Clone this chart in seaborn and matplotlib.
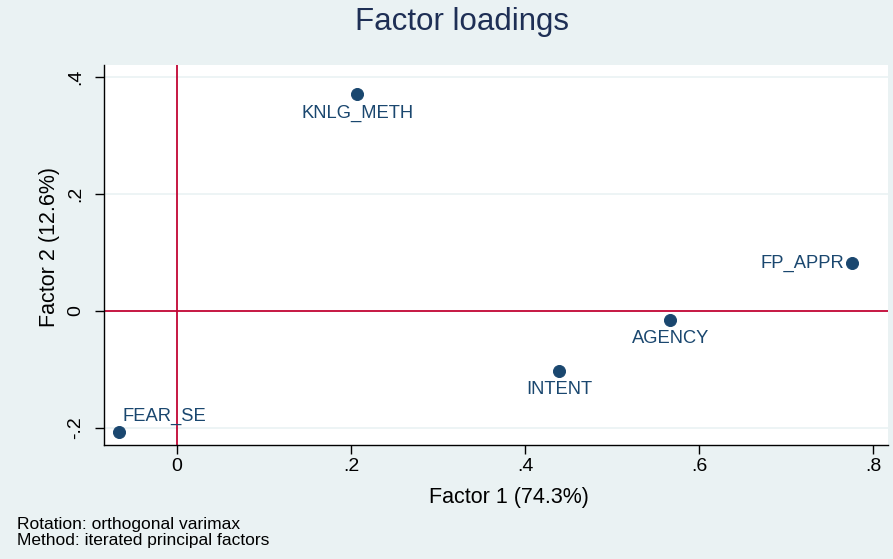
import matplotlib
matplotlib.use("Agg")
import matplotlib.pyplot as plt
import seaborn as sns
import pandas as pd

variables = ["KNLG_METH", "FP_APPR", "AGENCY", "INTENT", "FEAR_SE"]
factor1 = [0.207, 0.776, 0.567, 0.439, -0.067]
factor2 = [0.371, 0.082, -0.015, -0.103, -0.207]
x_ticks = [0, 0.2, 0.4, 0.6, 0.8]
x_tick_labels = ["0", ".2", ".4", ".6", ".8"]
y_ticks = [-0.2, 0, 0.2, 0.4]
y_tick_labels = ["-.2", "0", ".2", ".4"]

df = pd.DataFrame({"var": variables, "f1": factor1, "f2": factor2})

sns.set_theme(style="white")
plt.rcParams['font.family'] = ['Liberation Sans', 'DejaVu Sans']
plt.rcParams['text.color'] = 'black'
plt.rcParams['axes.labelcolor'] = 'black'
plt.rcParams['xtick.color'] = 'black'
plt.rcParams['ytick.color'] = 'black'

bg = "#eaf2f3"
navy = "#1a476f"
red = "#c10534"

fig = plt.figure(figsize=(8.93, 5.59), dpi=100, facecolor=bg)
ax = fig.add_axes([104/893, 1-445/559, (888-104)/893, (445-65)/559])
ax.set_facecolor("white")

for y in y_ticks:
    if y != 0:
        ax.axhline(y, color=bg, lw=1.2, zorder=0)
ax.axhline(0, color=red, lw=1.3, zorder=1)
ax.axvline(0, color=red, lw=1.3, zorder=1)

sns.scatterplot(data=df, x="f1", y="f2", ax=ax, color=navy, s=75, edgecolor=navy, zorder=3, legend=False)

offsets = {
    "KNLG_METH": (0, -8, "center", "top"),
    "FP_APPR": (-6, 0, "right", "center"),
    "AGENCY": (0, -7, "center", "top"),
    "INTENT": (0, -7, "center", "top"),
    "FEAR_SE": (3, 5, "left", "bottom"),
}
for v, x, y in zip(variables, factor1, factor2):
    dx, dy, ha, va = offsets[v]
    ax.annotate(v, (x, y), xytext=(dx, dy), textcoords="offset points",
                ha=ha, va=va, color=navy, fontsize=13.2)

ax.set_xlim(-0.0839, 0.817)
ax.set_ylim(-0.229, 0.4205)
ax.set_xticks(x_ticks)
ax.set_xticklabels(x_tick_labels, fontsize=14)
ax.set_yticks(y_ticks)
ax.set_yticklabels(y_tick_labels, fontsize=14, rotation=90, va="center")
ax.tick_params(axis="both", direction="out", length=6.5, width=1, color="black", bottom=True, left=True)
ax.tick_params(axis="x", pad=3)
ax.tick_params(axis="y", pad=8)
for s in ["top", "right"]:
    ax.spines[s].set_visible(False)
for s in ["left", "bottom"]:
    ax.spines[s].set_color("black")
    ax.spines[s].set_linewidth(1)

ax.set_xlabel("Factor 1 (74.3%)", fontsize=15.5, va="center")
ax.xaxis.set_label_coords((509 - 104) / 784, (445 - 497) / 380)
ax.set_ylabel("Factor 2 (12.6%)", fontsize=15.5, va="center")
ax.yaxis.set_label_coords((50 - 104) / 784, (445 - 247) / 380)

fig.text(462/893, 1-22/559, "Factor loadings", ha="center", va="center", fontsize=22.5, color="#1e2f55")
fig.text(17/893, 1-524/559, "Rotation: orthogonal varimax", fontsize=12.5, va="center")
fig.text(17/893, 1-541/559, "Method: iterated principal factors", fontsize=12.5, va="center")

fig.savefig("out.png", dpi=100, facecolor=bg)
